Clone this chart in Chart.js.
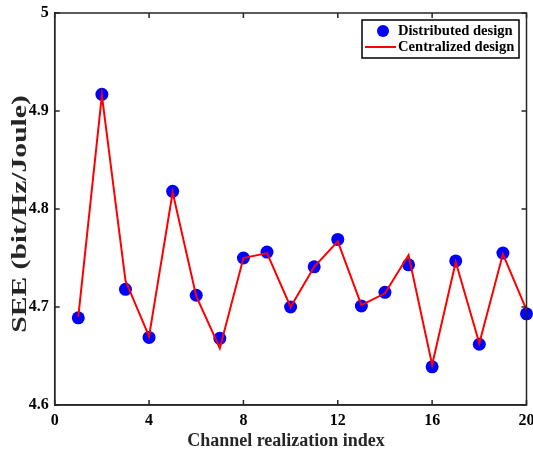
<!DOCTYPE html>
<html>
<head>
<meta charset="utf-8">
<script src="https://cdn.jsdelivr.net/npm/chart.js@4"></script>
<style>
html,body{margin:0;padding:0;background:#fff;}
#wrap{width:533px;height:452px;}
</style>
</head>
<body>
<div id="wrap"><canvas id="c" width="533" height="452"></canvas></div>
<script>
const indices = [1,2,3,4,5,6,7,8,9,10,11,12,13,14,15,16,17,18,19,20];
const distributed = [4.689,4.917,4.718,4.669,4.818,4.712,4.668,4.750,4.756,4.700,4.741,4.769,4.701,4.715,4.743,4.639,4.747,4.662,4.755,4.693];
const centralized = [4.690,4.916,4.727,4.670,4.817,4.711,4.658,4.750,4.755,4.700,4.741,4.767,4.702,4.714,4.753,4.641,4.746,4.663,4.754,4.697];
const xTicks = [0,4,8,12,16,20];
const yTicks = [4.6,4.7,4.8,4.9,5];
const seriesNames = ['Distributed design','Centralized design'];
const yTitle = 'SEE (bit/Hz/Joule)';
const xTitle = 'Channel realization index';

const FONT = '"Liberation Serif", "Times New Roman", serif';
const AX = '#262626';

const framePlugin = {
  id: 'frame',
  afterDatasetsDraw(chart) {
    const {ctx, chartArea: a, scales} = chart;
    ctx.save();
    ctx.strokeStyle = AX;
    ctx.lineWidth = 1.5;
    ctx.strokeRect(a.left, a.top, a.right - a.left, a.bottom - a.top);
    const L = 5;
    ctx.beginPath();
    xTicks.forEach(v => {
      const x = scales.x.getPixelForValue(v);
      ctx.moveTo(x, a.bottom); ctx.lineTo(x, a.bottom - L);
      ctx.moveTo(x, a.top); ctx.lineTo(x, a.top + L);
    });
    yTicks.forEach(v => {
      const y = scales.y.getPixelForValue(v);
      ctx.moveTo(a.left, y); ctx.lineTo(a.left + L, y);
      ctx.moveTo(a.right, y); ctx.lineTo(a.right - L, y);
    });
    ctx.stroke();
    ctx.restore();
  },
  afterDraw(chart) {
    const {ctx, chartArea: a} = chart;
    ctx.save();
    // y-axis title
    ctx.save();
    ctx.translate(21, (a.top + a.bottom) / 2 + 5);
    ctx.rotate(-Math.PI / 2);
    ctx.scale(1.48, 1);
    ctx.fillStyle = '#262626';
    ctx.font = 'bold 20px ' + FONT;
    ctx.textAlign = 'center';
    ctx.textBaseline = 'middle';
    ctx.fillText(yTitle, 0, 0);
    ctx.restore();
    // x-axis title
    ctx.fillStyle = '#262626';
    ctx.font = 'bold 18px ' + FONT;
    ctx.textAlign = 'center';
    ctx.textBaseline = 'middle';
    ctx.fillText(xTitle, 286, 441);
    // legend
    const bx = 362, by = 20, bw = 157, bh = 38;
    ctx.fillStyle = '#fff';
    ctx.fillRect(bx, by, bw, bh);
    ctx.strokeStyle = '#000';
    ctx.lineWidth = 1.5;
    ctx.strokeRect(bx, by, bw, bh);
    ctx.fillStyle = '#0000ff';
    ctx.beginPath();
    ctx.arc(bx + 21, by + 11, 6, 0, Math.PI * 2);
    ctx.fill();
    ctx.strokeStyle = '#ff0000';
    ctx.lineWidth = 2;
    ctx.beginPath();
    ctx.moveTo(bx + 3, by + 27); ctx.lineTo(bx + 34, by + 27);
    ctx.stroke();
    ctx.fillStyle = '#000';
    ctx.font = 'bold 14.6px ' + FONT;
    ctx.textBaseline = 'middle';
    ctx.textAlign = 'left';
    ctx.fillText(seriesNames[0], bx + 36, by + 11);
    ctx.fillText(seriesNames[1], bx + 36, by + 27);
    ctx.restore();
  }
};

new Chart(document.getElementById('c'), {
  type: 'line',
  data: {
    labels: indices,
    datasets: [
      {
        label: seriesNames[0],
        data: indices.map((x, i) => ({x, y: distributed[i]})),
        showLine: false,
        pointRadius: 6.5,
        pointHoverRadius: 6.5,
        pointBackgroundColor: '#0000ff',
        pointBorderColor: '#0000ff',
        pointBorderWidth: 0,
        order: 2,
        clip: false
      },
      {
        label: seriesNames[1],
        data: indices.map((x, i) => ({x, y: centralized[i]})),
        borderColor: '#ff0000',
        borderWidth: 2,
        pointRadius: 0,
        tension: 0,
        fill: false,
        order: 1
      }
    ]
  },
  options: {
    responsive: false,
    animation: false,
    events: [],
    layout: {padding: {top: 13, right: 6, left: 0, bottom: 0}},
    plugins: {legend: {display: false}, tooltip: {enabled: false}},
    scales: {
      x: {
        type: 'linear',
        min: 0, max: 20,
        afterBuildTicks: s => { s.ticks = xTicks.map(v => ({value: v})); },
        afterFit: s => { s.height = 47; s.paddingLeft = 0; s.paddingRight = 0; },
        grid: {display: false, drawTicks: false},
        border: {display: true, color: AX, width: 1.5},
        ticks: {
          padding: 6,
          color: '#000',
          font: {family: FONT, size: 16, weight: 'bold'},
          maxRotation: 0,
          callback: v => String(v)
        },
        title: {display: false}
      },
      y: {
        type: 'linear',
        min: 4.6, max: 5,
        afterBuildTicks: s => { s.ticks = yTicks.map(v => ({value: v})); },
        afterFit: s => { s.width = 54.7; s.paddingTop = 0; s.paddingBottom = 0; },
        grid: {display: false, drawTicks: false},
        border: {display: true, color: AX, width: 1.5},
        ticks: {
          padding: 6,
          color: '#000',
          font: {family: FONT, size: 16, weight: 'bold'},
          callback: v => String(Math.round(v * 10) / 10)
        },
        title: {display: false}
      }
    }
  },
  plugins: [framePlugin]
});
</script>
</body>
</html>
